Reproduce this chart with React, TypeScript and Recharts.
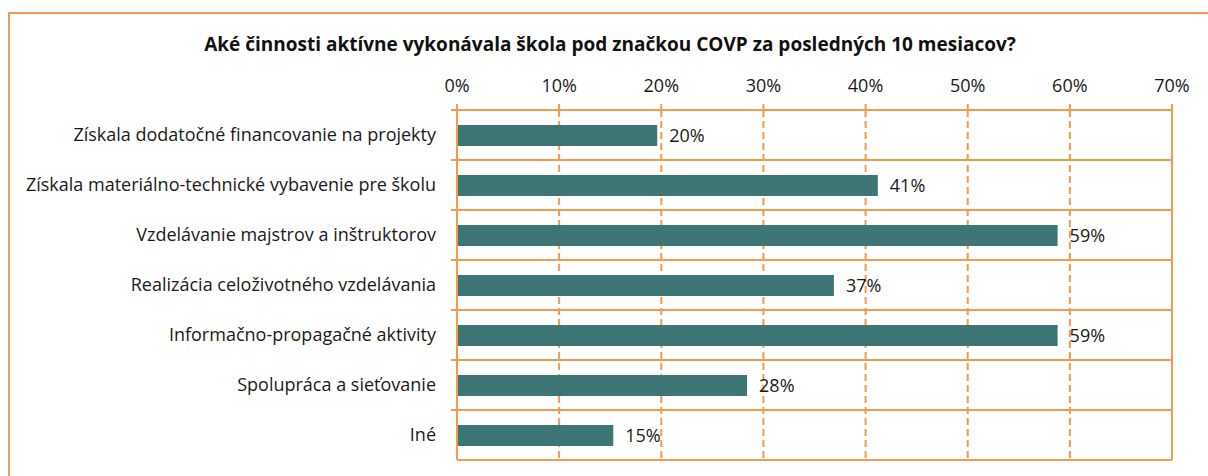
import {
  BarChart,
  Bar,
  XAxis,
  YAxis,
  CartesianGrid,
  ReferenceLine,
  LabelList,
} from 'recharts';

const title = 'Aké činnosti aktívne vykonávala škola pod značkou COVP za posledných 10 mesiacov?';

const categories = [
  'Získala dodatočné financovanie na projekty',
  'Získala materiálno-technické vybavenie pre školu',
  'Vzdelávanie majstrov a inštruktorov',
  'Realizácia celoživotného vzdelávania',
  'Informačno-propagačné aktivity',
  'Spolupráca a sieťovanie',
  'Iné',
];

const shares = [19.6, 41.2, 58.8, 36.9, 58.8, 28.4, 15.3];

const xTicks = [0, 10, 20, 30, 40, 50, 60, 70];

const data = categories.map((name, i) => ({ name, value: shares[i] }));

const ORANGE = '#F39A4C';
const TEAL = '#3D7675';
const FONT = '"Open Sans", "Noto Sans", sans-serif';

const W = 1208;
const H = 476;
const margin = { top: 78, right: 36, bottom: 16, left: 8 };
const xAxisHeight = 32;
const plotTop = margin.top + xAxisHeight;
const plotHeight = H - plotTop - margin.bottom;
const band = plotHeight / categories.length;

// category label + short tick at the top edge of each band (Excel style)
function CategoryTick(props: any) {
  const { x, y, payload } = props;
  const edge = x + 15;
  return (
    <g>
      <line x1={edge} x2={edge + 6} y1={y - band / 2} y2={y - band / 2} stroke={ORANGE} strokeWidth={2} />
      <text x={x} y={y} dy={6} textAnchor="end" fontSize={18} fill="#1a1a1a" fontFamily={FONT}>
        {payload.value}
      </text>
    </g>
  );
}

export default function App() {
  return (
    <div
      style={{
        position: 'fixed',
        left: 0,
        top: 0,
        width: W,
        height: H,
        overflow: 'hidden',
        background: '#fff',
        fontFamily: FONT,
      }}
    >
      <div
        style={{
          position: 'absolute',
          left: 8,
          top: 12,
          width: W + 20,
          height: H + 20,
          borderLeft: `2px solid ${ORANGE}`,
          borderTop: `2px solid ${ORANGE}`,
        }}
      />
      <div
        style={{
          position: 'absolute',
          left: 0,
          width: 1220,
          top: 31,
          textAlign: 'center',
          fontWeight: 700,
          fontSize: 19,
          color: '#111',
        }}
      >
        {title}
      </div>
      <div style={{ position: 'absolute', left: 0, top: 0 }}>
        <BarChart width={W} height={H} data={data} layout="vertical" margin={margin} barSize={21}>
          <CartesianGrid
            horizontal={true}
            vertical={false}
            stroke={ORANGE}
            strokeWidth={2}
            horizontalCoordinatesGenerator={({ offset }: any) =>
              categories.map((_, i) => offset.top + (i * offset.height) / categories.length).concat(offset.top + offset.height)
            }
          />
          <CartesianGrid horizontal={false} vertical={true} stroke={ORANGE} strokeWidth={2} strokeDasharray="7 4" />
          <XAxis
            type="number"
            orientation="top"
            domain={[0, 70]}
            ticks={xTicks}
            tickFormatter={(v: number) => `${v}%`}
            height={xAxisHeight}
            tickSize={6}
            tickMargin={12}
            axisLine={{ stroke: ORANGE, strokeWidth: 2 }}
            tickLine={{ stroke: ORANGE, strokeWidth: 2 }}
            tick={{ fontSize: 18, fill: '#1a1a1a', fontFamily: FONT }}
          />
          <YAxis
            type="category"
            dataKey="name"
            width={449}
            tickSize={6}
            tickMargin={15}
            axisLine={{ stroke: ORANGE, strokeWidth: 2 }}
            tickLine={false}
            tick={<CategoryTick />}
            interval={0}
          />
          <ReferenceLine x={70} stroke={ORANGE} strokeWidth={2} ifOverflow="extendDomain" />
          <Bar dataKey="value" fill={TEAL} isAnimationActive={false}>
            <LabelList
              dataKey="value"
              position="right"
              offset={12}
              formatter={(v: any) => `${Math.round(Number(v))}%`}
              style={{ fontSize: 18, fill: '#1a1a1a', fontFamily: FONT }}
            />
          </Bar>
        </BarChart>
      </div>
    </div>
  );
}
